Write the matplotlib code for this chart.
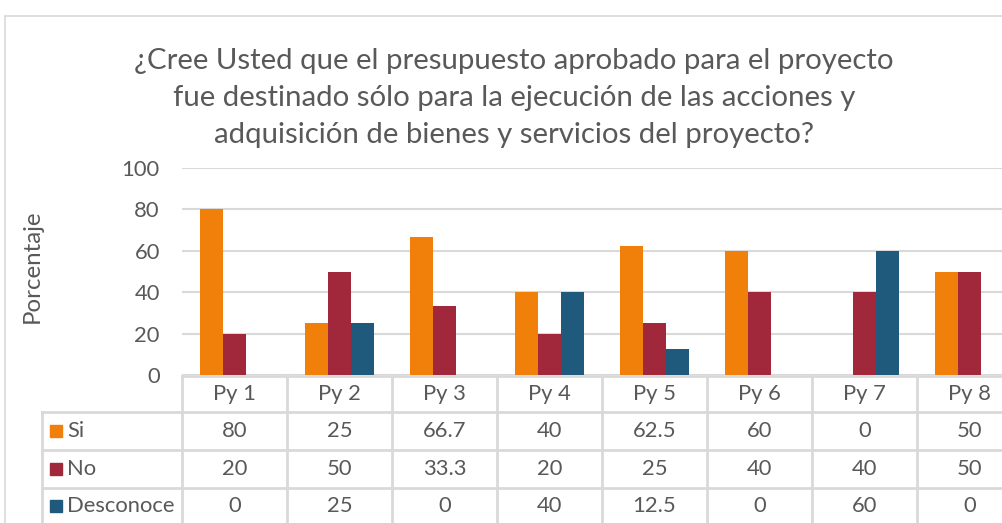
import matplotlib.pyplot as plt
import matplotlib.transforms as mtransforms
from matplotlib.patches import Rectangle
from matplotlib.lines import Line2D
import numpy as np

plt.rcParams['font.family'] = ['Lato', 'DejaVu Sans']

# Datos del gráfico
proyectos = ['Py 1', 'Py 2', 'Py 3', 'Py 4', 'Py 5', 'Py 6', 'Py 7', 'Py 8']
si = [80, 25, 66.7, 40, 62.5, 60, 0, 50]
no = [20, 50, 33.3, 20, 25, 40, 40, 50]
desconoce = [0, 25, 0, 40, 12.5, 0, 60, 0]
series = ['Si', 'No', 'Desconoce']
colores = ['#F0800A', '#A0283A', '#1F5A7D']
titulo = ('¿Cree Usted que el presupuesto aprobado para el proyecto\n'
          'fue destinado sólo para la ejecución de las acciones y\n'
          'adquisición de bienes y servicios del proyecto?')

W, H = 1003, 523
gris = '#595959'
linea = '#D9D9D9'
fs = 15.8

fig = plt.figure(figsize=(W / 100, H / 100), dpi=100)

def fx(p):
    return p / W

def fy(p):
    return 1 - p / H

# Borde del gráfico
fig.add_artist(Line2D([fx(5), fx(5)], [fy(16), 0], color=linea, lw=1.2))
fig.add_artist(Line2D([fx(5), 1], [fy(16), fy(16)], color=linea, lw=1.2))

ax = fig.add_axes([fx(182), fy(375), fx(840), fy(168) - fy(375)])
x = np.arange(len(proyectos))
w = 0.22
valores = [si, no, desconoce]
for i, (vals, c) in enumerate(zip(valores, colores)):
    ax.bar(x + (i - 1) * w, vals, width=w, color=c, zorder=3)

ax.set_xlim(-0.5, len(proyectos) - 0.5)
ax.set_ylim(0, 100)
ax.set_yticks(range(0, 101, 20))
ax.grid(axis='y', color=linea, lw=1.5, zorder=0)
ax.tick_params(axis='y', length=0, labelsize=fs, labelcolor=gris, pad=16)
ax.tick_params(axis='x', length=0, labelbottom=False)
for s in ['top', 'right', 'left', 'bottom']:
    ax.spines[s].set_visible(False)

# Etiqueta del eje Y
fig.text(fx(32), fy(266), 'Porcentaje', rotation=90, ha='center', va='center',
         fontsize=17.3, color=gris)

fig.text(fx(514), fy(98), titulo, ha='center', va='center', fontsize=21.2,
         color=gris, linespacing=1.5)

# Tabla de datos
tr = mtransforms.blended_transform_factory(ax.transData, fig.transFigure)
top, filas = 376, [412, 450, 488]
for k in range(len(proyectos) + 1):
    ax.add_line(Line2D([k - 0.5, k - 0.5], [fy(top), 0], transform=tr,
                       color=linea, lw=2, clip_on=False))
ax.add_line(Line2D([-0.5, len(proyectos) - 0.5], [fy(top), fy(top)], transform=tr,
                   color=linea, lw=2, clip_on=False))
for r in filas:
    fig.add_artist(Line2D([fx(42), 1], [fy(r), fy(r)], color=linea, lw=2))
fig.add_artist(Line2D([fx(42), fx(42)], [fy(filas[0]), 0], color=linea, lw=2))

for i, p in enumerate(proyectos):
    ax.text(i, fy(394), p, transform=tr, ha='center', va='center',
            fontsize=fs, color=gris, clip_on=False)

centros = [431, 469, 506]
for nombre, vals, c, yc in zip(series, valores, colores, centros):
    fig.add_artist(Rectangle((fx(50), fy(yc + 6)), fx(12), fy(yc - 6) - fy(yc + 6),
                             color=c))
    fig.text(fx(67), fy(yc), nombre, ha='left', va='center', fontsize=fs, color=gris)
    for i, v in enumerate(vals):
        ax.text(i, fy(yc), f'{v:g}', transform=tr, ha='center', va='center',
                fontsize=fs, color=gris, clip_on=False)

fig.savefig('out.png', dpi=100)
